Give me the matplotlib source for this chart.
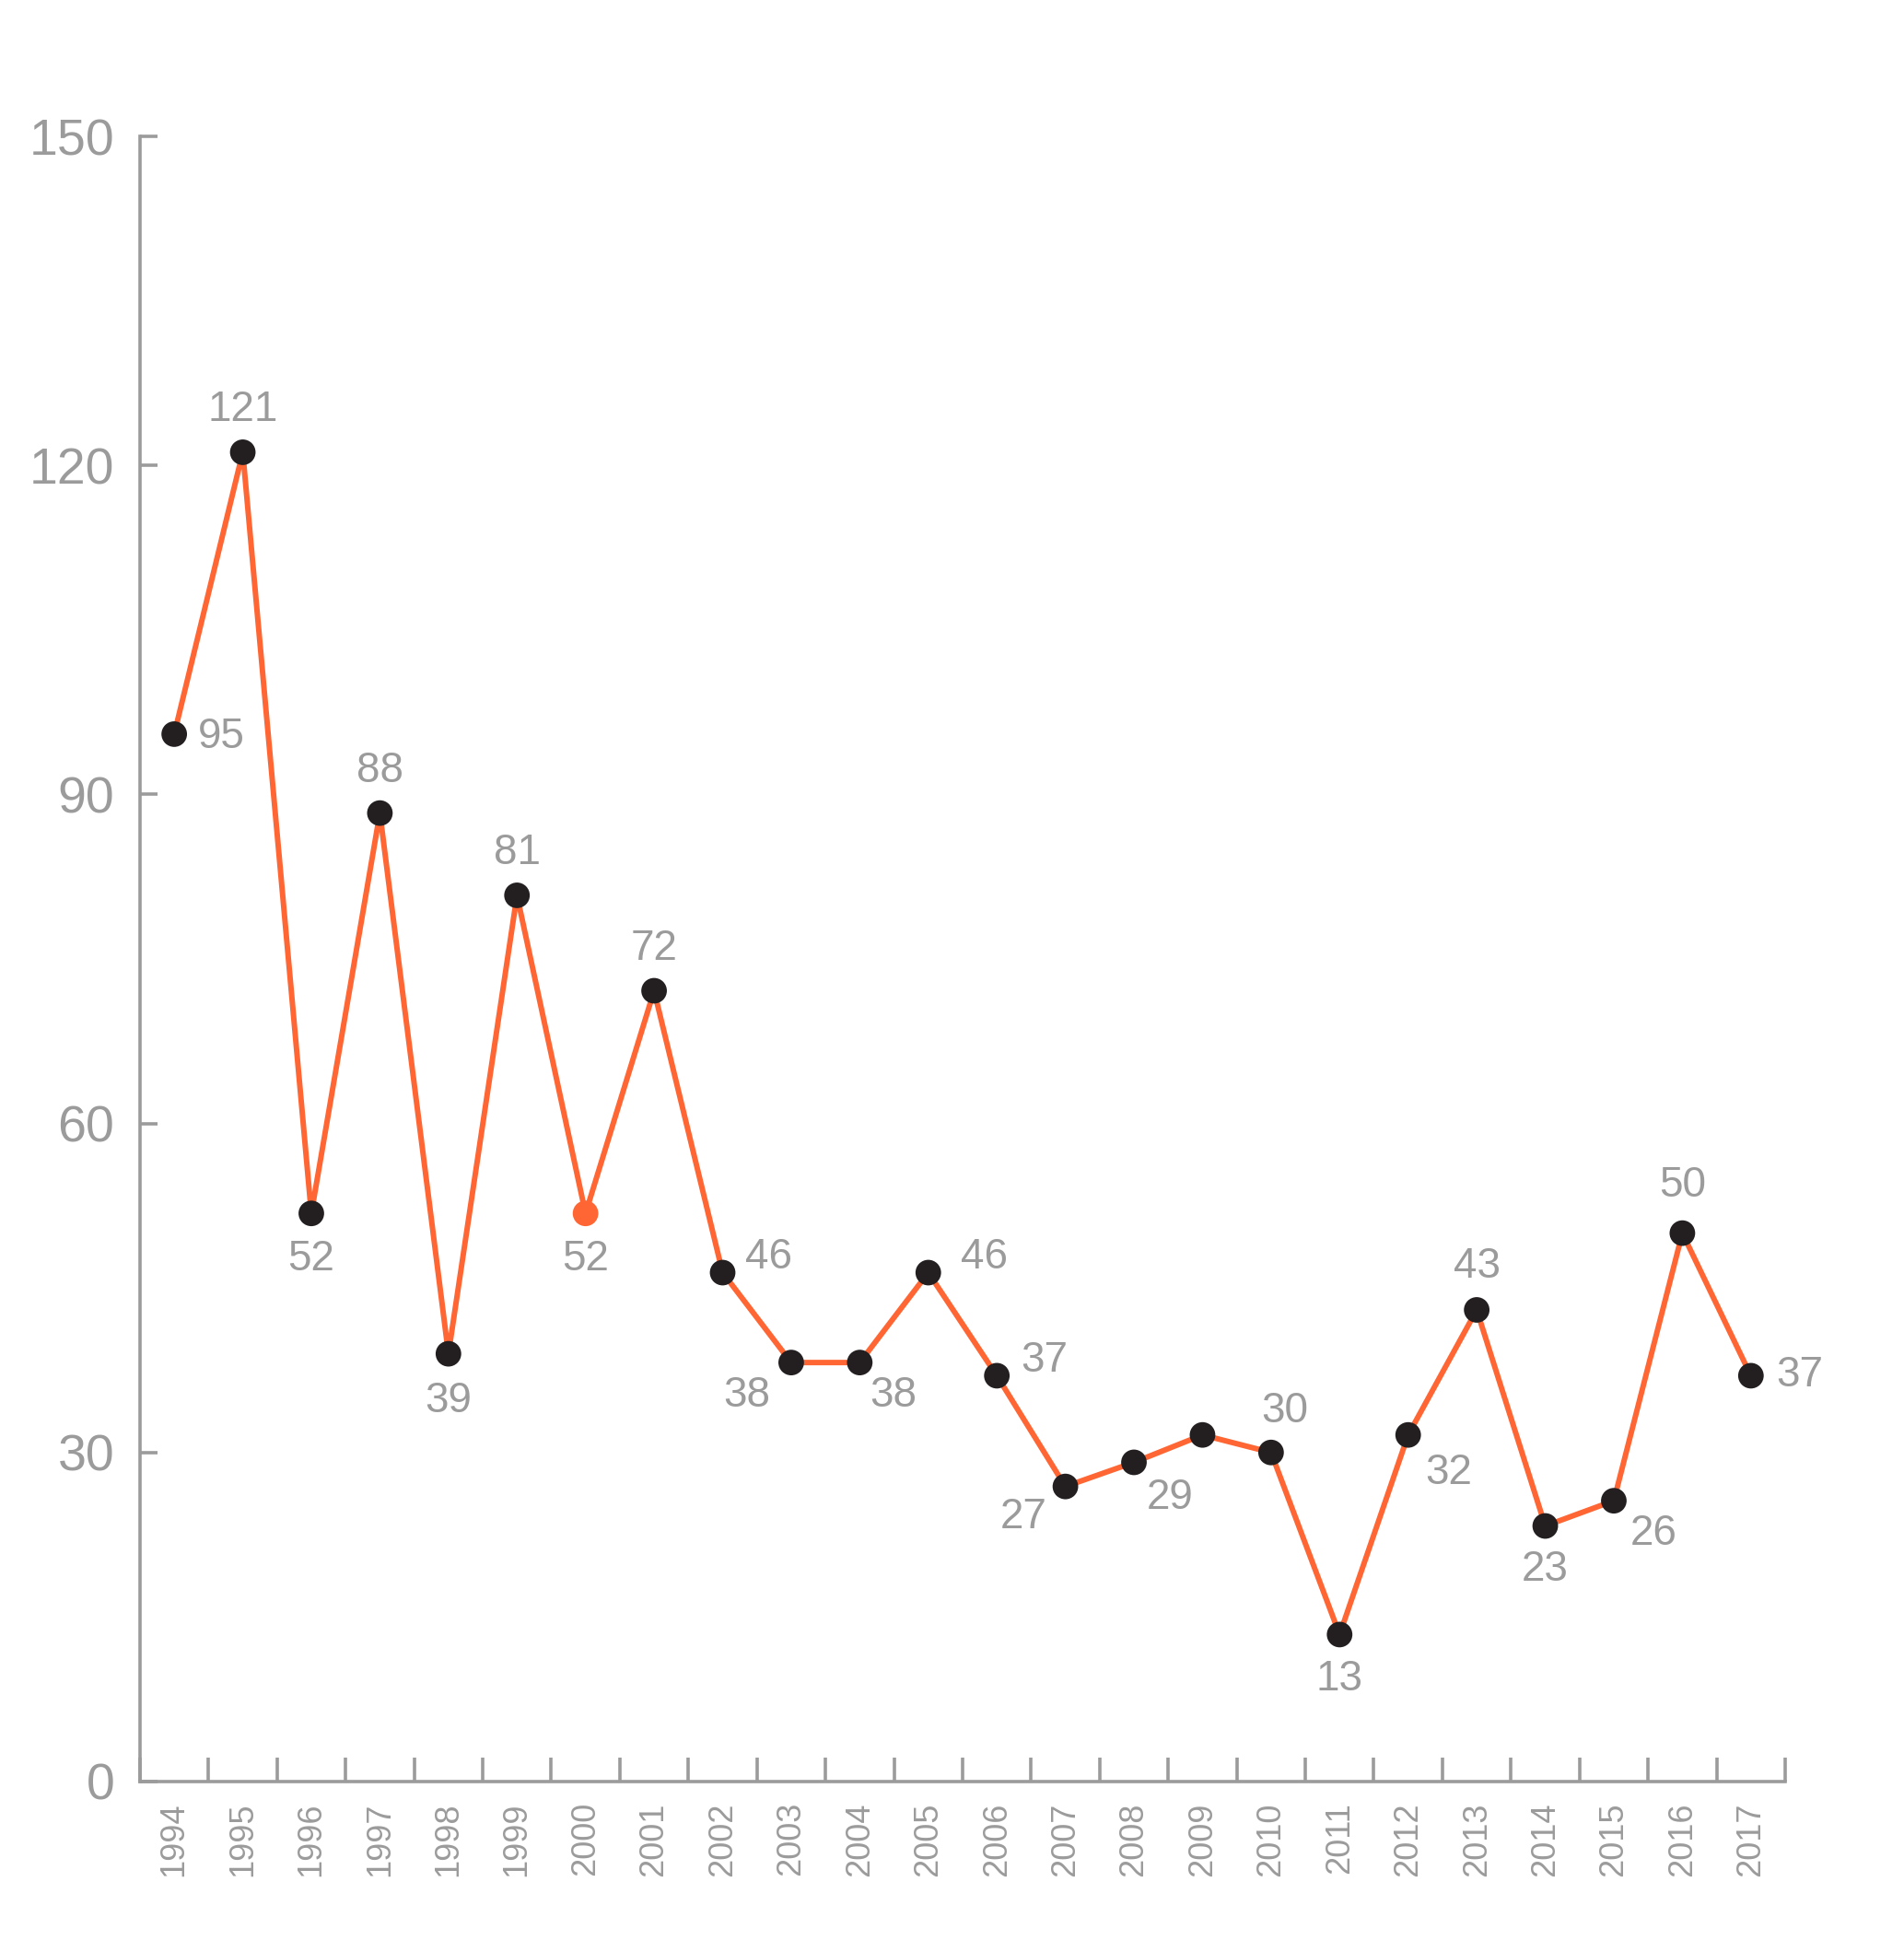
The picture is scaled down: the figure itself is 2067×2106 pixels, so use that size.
import numpy as np
import matplotlib.pyplot as plt
from matplotlib.ticker import FixedLocator

# Data
years = [str(y) for y in range(1994, 2018)]
values = [95.5, 121.2, 51.8, 88.3, 39.0, 80.8, 51.8, 72.1, 46.4, 38.2, 38.2, 46.4,
          37.0, 26.9, 29.1, 31.6, 30.0, 13.4, 31.6, 43.0, 23.3, 25.6, 50.0, 37.0]
labels = ["95", "121", "52", "88", "39", "81", "52", "72", "46", "38", "38", "46",
          "37", "27", "29", "", "30", "13", "32", "43", "23", "26", "50", "37"]
highlight = "2000"

# label placement (offset points) per point
offsets = [(37, -2), (0, 33), (0, -36), (0, 33), (0, -37), (0, 33), (0, -36), (0, 33),
           (36, 12), (-35, -26), (26, -26), (44, 12), (37, 12), (-33, -24), (28, -28),
           (0, 0), (11, 32), (0, -35), (32, -30), (0, 34), (0, -34), (31, -26), (0, 37),
           (38, 0)]

orange = "#FF6633"
dark = "#231F20"
grey = "#9B9B9B"

plt.rcParams['font.family'] = ['Liberation Sans', 'DejaVu Sans']

fig = plt.figure(figsize=(20.67, 21.06), dpi=100)
ax = fig.add_axes([0.0735, 0.0817, 0.8641, 0.848])

x = np.arange(len(years))
ax.plot(x, values, color=orange, lw=4.3, zorder=2)
colors = [orange if y == highlight else dark for y in years]
ax.scatter(x, values, s=20 ** 2, c=colors, zorder=3, linewidths=0)

for xi, v, lab, off in zip(x, values, labels, offsets):
    if not lab:
        continue
    ax.annotate(lab, (xi, v), xytext=off, textcoords='offset points',
                ha='center', va='center', fontsize=33, color=grey)

ax.set_xlim(-0.5, 23.5)
ax.set_ylim(0, 150)

for s in ['top', 'right']:
    ax.spines[s].set_visible(False)
for s in ['left', 'bottom']:
    ax.spines[s].set_color(grey)
    ax.spines[s].set_linewidth(2.6)

ax.set_yticks([0, 30, 60, 90, 120, 150])
ax.tick_params(axis='y', direction='in', length=14, width=2.6, color=grey,
               labelcolor=grey, labelsize=40, pad=20)

ax.set_xticks(x)
ax.set_xticklabels(years, rotation=90)
ax.xaxis.set_minor_locator(FixedLocator(np.arange(-0.5, 24, 1)))
ax.tick_params(axis='x', which='major', length=0, labelcolor=grey, labelsize=26, pad=16)
ax.tick_params(axis='x', which='minor', direction='in', length=19, width=2.6, color=grey)

fig.savefig("out.png", dpi=100)
